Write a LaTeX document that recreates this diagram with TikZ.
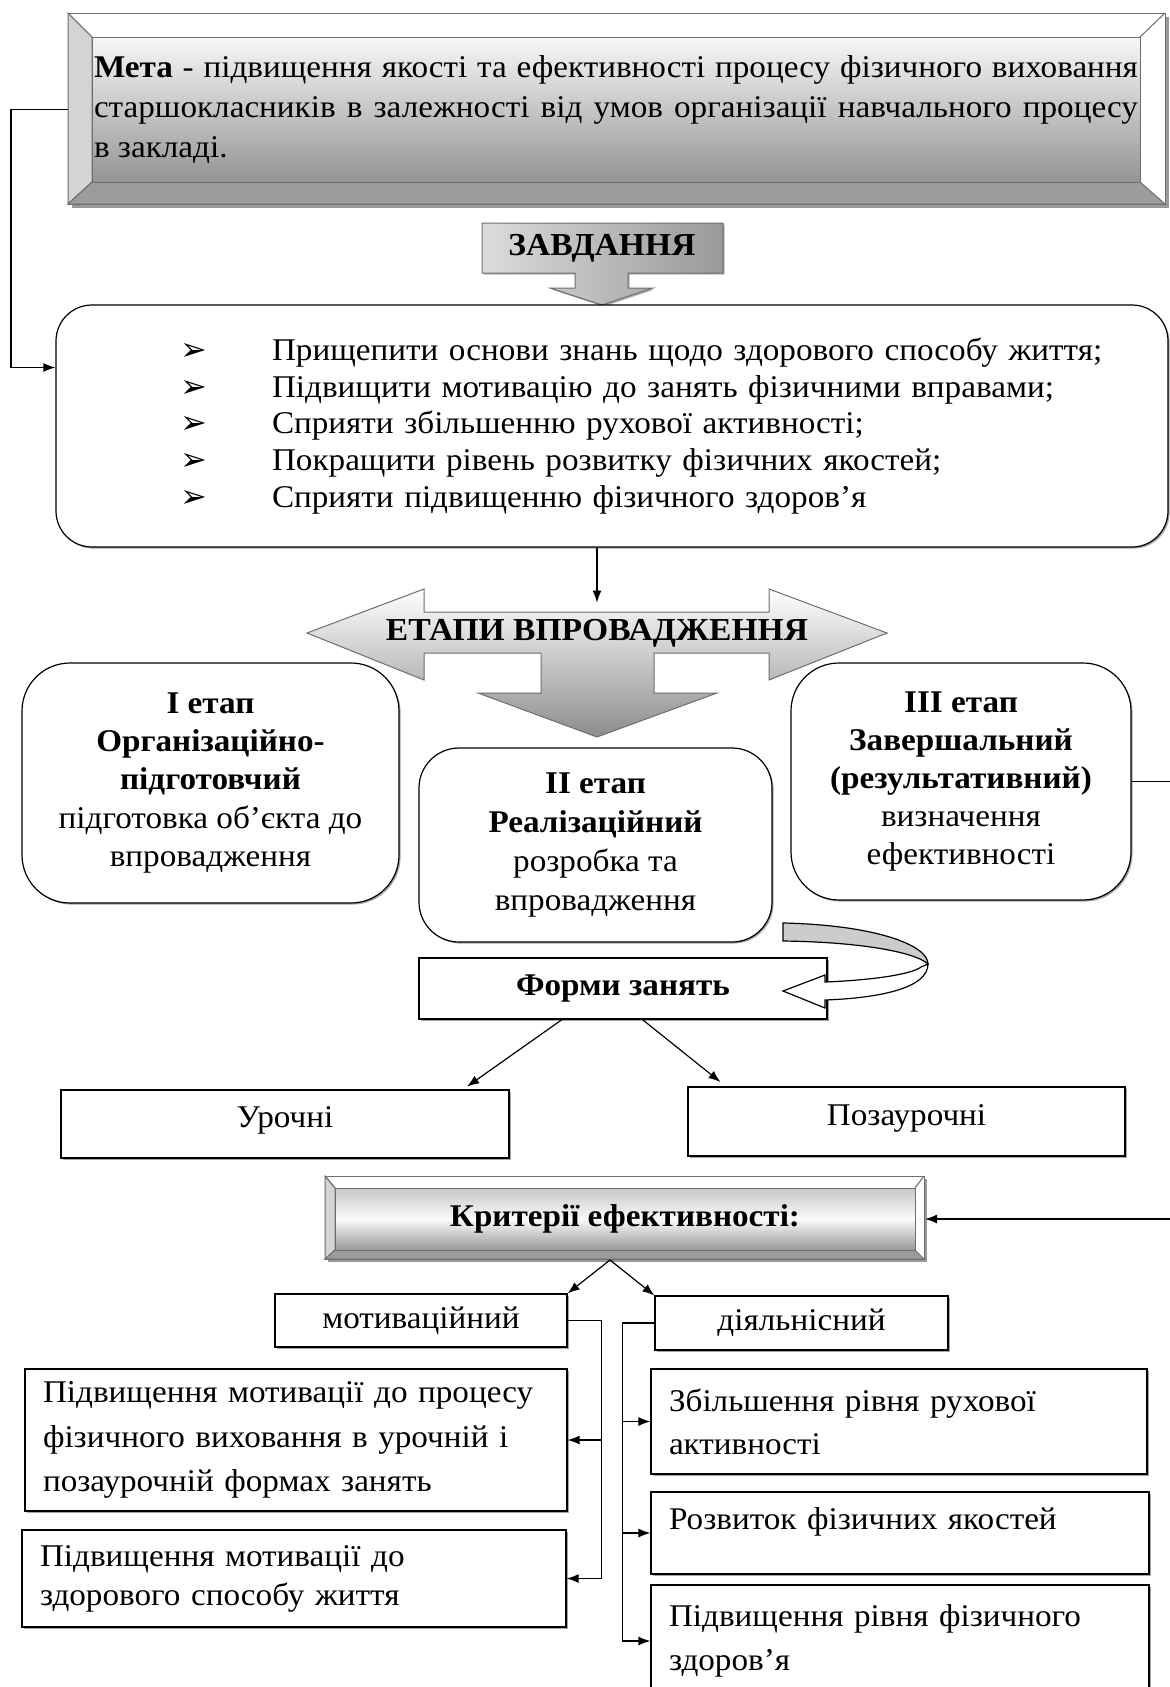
\documentclass[tikz,border=0pt]{standalone}
\usepackage{fontspec}
\setmainfont{Liberation Serif}[FakeStretch=1.05]
\newfontfamily\bulletfont{DejaVu Sans}
\usetikzlibrary{positioning,shadows,arrows.meta}
\definecolor{FrameGrey}{HTML}{6E6E6E}
\definecolor{BevelDark}{HTML}{9C9C9C}
\definecolor{BevelLight}{HTML}{D4D4D4}
\hyphenpenalty=10000
\newcommand{\taskbullet}{\hspace*{62pt}\makebox[46pt][l]{\bulletfont\fontsize{16}{16}\selectfont ➢}}

\begin{document}
\begin{tikzpicture}[x=0.5pt, y=-0.5pt, >={Latex[length=6pt,width=4.5pt]},
    every node/.style={font=\fontsize{15.8}{19}\selectfont, inner sep=0pt},
    plainbox/.style={draw, line width=0.6pt, fill=white,
                     drop shadow={shadow xshift=0.8pt, shadow yshift=-0.8pt, fill=black!70}},
    roundbox/.style={plainbox, rounded corners=24pt, align=center},
    textbox/.style={plainbox, align=left, inner xsep=9pt},
    bevelface/.style={draw=FrameGrey, line width=0.5pt},
    headfont/.style={font=\fontsize{16}{20}\selectfont\bfseries},
    link/.style={line width=0.6pt}]
\useasboundingbox (0,0) rectangle (1170,1687);

% goal, bevelled frame
\fill[black!40] (72,17) rectangle (1169,208);
\filldraw[bevelface, fill=white] (68,13) rectangle (1165,204);
\filldraw[bevelface, fill=BevelLight] (68,13) -- (92,37) -- (92,182) -- (68,204) -- cycle;
\filldraw[bevelface, fill=BevelDark] (68,204) -- (92,182) -- (1140,182) -- (1165,204) -- cycle;
\draw[bevelface] (68,13) -- (92,37) (1165,13) -- (1140,37);
\node[bevelface, top color=black!3, bottom color=black!42, minimum width=524pt, minimum height=72.5pt,
      text width=522pt, align=justify, outer sep=12pt, font=\fontsize{15.8}{20}\selectfont]
      (goal) at (616,109.5) {\textbf{Мета} - підвищення якості та ефективності процесу фізичного виховання\linebreak
      старшокласників в залежності від умов організації навчального процесу\linebreak в закладі.};

% tasks
\path[bevelface, left color=black!14, right color=black!40,
      drop shadow={shadow xshift=0.8pt, shadow yshift=-0.8pt, fill=black!60}]
  (482,223) -- (723,223) -- (723,273) -- (628,273) -- (628,288) -- (653,288) -- (602,305)
  -- (550,288) -- (575,288) -- (575,273) -- (482,273) -- cycle;
\node[headfont] (taskhead) at (602,248) {ЗАВДАННЯ};
\node[roundbox, rounded corners=18pt, minimum width=556pt, minimum height=121pt, text width=556pt,
      align=left, font=\fontsize{15.8}{18.4}\selectfont] (tasks) at (612,426)
  {\taskbullet Прищепити основи знань щодо здорового способу життя;\\
   \taskbullet Підвищити мотивацію до занять фізичними вправами;\\
   \taskbullet Сприяти збільшенню рухової активності;\\
   \taskbullet Покращити рівень розвитку фізичних якостей;\\
   \taskbullet Сприяти підвищенню фізичного здоров’я};
\draw[link, ->] (goal.west) -- ++(-57,0) |- (tasks.174);

% stages
\path[bevelface, top color=white, bottom color=black!45]
  (307,633) -- (424,589) -- (424,612) -- (769,612) -- (769,589) -- (887,633) -- (769,680)
  -- (769,653) -- (654,653) -- (654,693) -- (717,693) -- (597,737) -- (478,693) -- (541,693)
  -- (541,653) -- (424,653) -- (424,680) -- cycle;
\node[headfont, minimum height=21pt] (stagehead) at (597,633) {ЕТАПИ ВПРОВАДЖЕННЯ};
\draw[link, ->, shorten >=4.5pt] (tasks.south -| stagehead.north) -- (stagehead.north);

\node[roundbox, minimum width=188.5pt, minimum height=120pt, font=\fontsize{15.8}{19.1}\selectfont]
  (stage1) at (210.5,783) {\textbf{I етап}\\\textbf{Організаційно-}\\\textbf{підготовчий}\\підготовка об’єкта до\\впровадження};
\node[roundbox, rounded corners=20pt, minimum width=176.5pt, minimum height=97pt, font=\fontsize{15.8}{19.6}\selectfont]
  (stage2) at (595.5,845) {\textbf{II етап}\\\textbf{Реалізаційний}\\розробка та\\впровадження};
\node[roundbox, minimum width=170pt, minimum height=118.5pt, font=\fontsize{15.8}{19.1}\selectfont]
  (stage3) at (961,781.5) {\textbf{III етап}\\\textbf{Завершальний}\\\textbf{(результативний)}\\визначення\\ефективності};

% forms
\node[plainbox, minimum width=204pt, minimum height=30.5pt, font=\fontsize{15.8}{19}\selectfont\bfseries]
  (forms) at (623,988.5) {Форми занять};
\filldraw[link, fill=black!20] (783,923) .. controls (875,925) and (928,945) .. (928,964)
  .. controls (915,952) and (860,942) .. (783,941) -- cycle;
\filldraw[link, fill=white] (928,964) .. controls (928,988) and (880,998) .. (825,1000)
  -- (825,1008) -- (783,991) -- (825,975) -- (825,982) .. controls (875,980) and (912,974) .. (921,967) -- cycle;

\node[plainbox, minimum width=224pt, minimum height=34pt, text depth=6.5pt] (lesson) at (285,1124) {Урочні};
\node[plainbox, minimum width=218.5pt, minimum height=34.5pt, text depth=6.5pt] (extra) at (906.5,1121.5) {Позаурочні};
\draw[link, ->, shorten >=2.5pt] (forms.207) -- (lesson.11);
\draw[link, ->, shorten >=3.5pt] (forms.302) -- (extra.169);

% criteria, bevelled frame
\fill[black!40] (328,1179) rectangle (927,1262);
\filldraw[bevelface, fill=white] (325,1176) rectangle (924,1259);
\filldraw[bevelface, fill=BevelLight] (325,1176) -- (335,1188) -- (335,1250) -- (325,1259) -- cycle;
\filldraw[bevelface, fill=BevelDark] (325,1259) -- (335,1250) -- (915,1250) -- (924,1259) -- cycle;
\draw[bevelface] (325,1176) -- (335,1188) (924,1176) -- (915,1188);
\node[bevelface, top color=black!22, bottom color=black!40, middle color=black!2, minimum width=290pt,
      minimum height=31pt, outer sep=5pt, font=\fontsize{15.8}{19}\selectfont\bfseries]
  (crit) at (625,1219) {Критерії ефективності:};
\draw[link, ->] (stage3.east) -- ++(40,0) |- (crit.east);

\node[plainbox, minimum width=146pt, minimum height=26.5pt] (motiv) at (421,1320.5) {мотиваційний};
\node[plainbox, minimum width=146.5pt, minimum height=27pt] (dial) at (801.5,1323) {діяльнісний};
\draw[link, ->] ([xshift=-7.5pt]crit.south) -- (motiv.north east);
\draw[link, ->] ([xshift=-7.5pt]crit.south) -- (dial.north west);

\node[textbox, minimum width=271pt, minimum height=71pt, text width=253pt, font=\fontsize{15.8}{22.25}\selectfont]
  (motiv1) at (296,1440) {Підвищення мотивації до процесу\\фізичного виховання в урочній і\\позаурочній формах занять};
\node[textbox, minimum width=272pt, minimum height=48.5pt, text width=254pt, font=\fontsize{15.8}{19.5}\selectfont]
  (motiv2) at (294,1578.5) {Підвищення мотивації до\\здорового способу життя};
\node[textbox, minimum width=248pt, minimum height=52.5pt, text width=230pt, font=\fontsize{15.8}{21.5}\selectfont]
  (dial1) at (899,1421.5) {Збільшення рівня рухової\\активності};
\node[textbox, minimum width=249pt, minimum height=41pt, text width=231pt, text height=10pt, text depth=14pt]
  (dial2) at (900,1533) {Розвиток фізичних якостей};
\node[textbox, minimum width=249pt, minimum height=56pt, text width=231pt, font=\fontsize{15.8}{22}\selectfont]
  (dial3) at (900,1641) {Підвищення рівня фізичного\\здоров’я};

\draw[link, ->] (motiv.east) -- ++(34,0) |- (motiv1.east);
\draw[link, ->] (motiv.east) -- ++(34,0) |- (motiv2.east);
\draw[link, ->] (dial.west) -- ++(-32,0) |- (dial1.west);
\draw[link, ->] (dial.west) -- ++(-32,0) |- (dial2.west);
\draw[link, ->] (dial.west) -- ++(-32,0) |- (dial3.west);
\end{tikzpicture}
\end{document}
